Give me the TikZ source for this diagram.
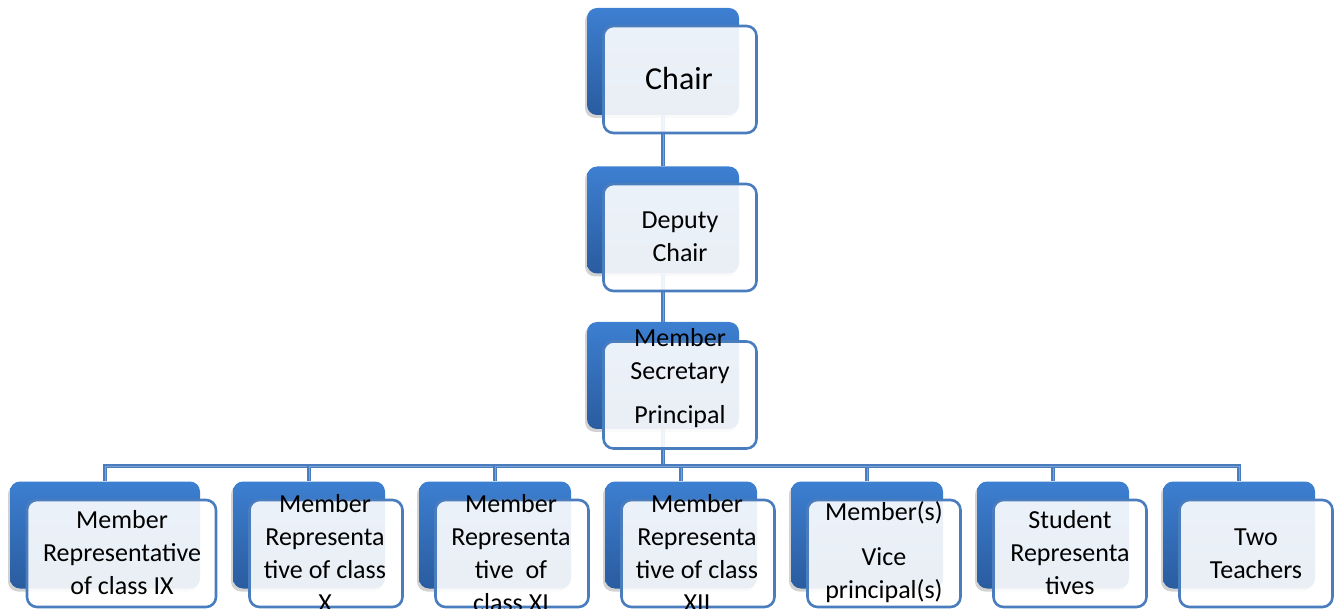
\documentclass[tikz,border=0pt]{standalone}
\usepackage{fontspec}
\setmainfont{Carlito}
\usetikzlibrary{shadows,backgrounds}
\definecolor{boxtop}{HTML}{3D7FD1}
\definecolor{boxbot}{HTML}{2A5C9F}
\definecolor{edge}{HTML}{4A7DBE}
\begin{document}
\begin{tikzpicture}[x=1pt,y=-1pt,
  bluebox/.style={rectangle, rounded corners=10pt, inner sep=0pt, minimum width=152pt, minimum height=107pt,
    top color=boxtop, bottom color=boxbot, draw=none,
    drop shadow={shadow xshift=-2pt, shadow yshift=-3pt, opacity=0.25, fill=black!70}},
  whitebox/.style={rectangle, rounded corners=10pt, inner sep=0pt, minimum width=153pt, minimum height=107pt,
    draw=edge, line width=2.6pt, fill=white, fill opacity=0.9},
  txt/.style={align=center, inner sep=0pt, text=black, font=\fontsize{26}{33}\selectfont},
  link/.style={draw=edge, line width=1.2pt, double=edge!72!white, double distance=0.7pt}
]
\useasboundingbox (0,0) rectangle (1339,609);

% top column
\node[bluebox] (chair) at (663,61.5) {};
\node[whitebox] (chairw) at (680,79.5) {};
\node[txt, font=\fontsize{32}{38}\selectfont] (chairt) at (679,79) {Chair};

\node[bluebox] (deputy) at (663,220) {};
\node[whitebox] (deputyw) at (680,237.5) {};
\node[txt] (deputyt) at (680,237) {Deputy\\Chair};

\node[bluebox] (sec) at (663,375.5) {};
\node[whitebox] (secw) at (680,395) {};
\node[txt] (sect) at (680,378) {Member\\Secretary\\[11pt]Principal};

% bottom row
\node[bluebox, minimum width=190pt] (m1) at (105,535) {};
\node[whitebox, minimum width=189pt] (m1w) at (121.5,553.5) {};
\node[txt] (m1t) at (122,553) {Member\\Representative\\of class IX};

\node[bluebox] (m2) at (309,535) {};
\node[whitebox] (m2w) at (326,553.5) {};
\node[txt] (m2t) at (325,553) {Member\\Representa\\tive of class\\X};

\node[bluebox] (m3) at (495,535) {};
\node[whitebox] (m3w) at (512,553.5) {};
\node[txt] (m3t) at (511,553) {Member\\Representa\\tive~ of\\class XI};

\node[bluebox] (m4) at (681,535) {};
\node[whitebox] (m4w) at (698,553.5) {};
\node[txt] (m4t) at (697,553) {Member\\Representa\\tive of class\\XII};

\node[bluebox] (m5) at (867,535) {};
\node[whitebox] (m5w) at (884,553.5) {};
\node[txt] (m5t) at (884,552) {Member(s)\\[12pt]Vice\\principal(s)};

\node[bluebox] (m6) at (1053,535) {};
\node[whitebox] (m6w) at (1070,553.5) {};
\node[txt] (m6t) at (1070,553) {Student\\Representa\\tives};

\node[bluebox] (m7) at (1239,535) {};
\node[whitebox] (m7w) at (1256,553.5) {};
\node[txt] (m7t) at (1256,554) {Two\\Teachers};

\coordinate (bus) at (663,466);

\begin{pgfonlayer}{background}
  \draw[link] (chair.south) -- (deputy.north);
  \draw[link] (deputy.south) -- (sec.north);
  \draw[link] (sec.south) -- (bus);
  \draw[link] (bus) -| (m1.north);
  \draw[link] (bus) -| (m2.north);
  \draw[link] (bus) -| (m3.north);
  \draw[link] (bus) -| (m4.north);
  \draw[link] (bus) -| (m5.north);
  \draw[link] (bus) -| (m6.north);
  \draw[link] (bus) -| (m7.north);
\end{pgfonlayer}
\end{tikzpicture}
\end{document}
